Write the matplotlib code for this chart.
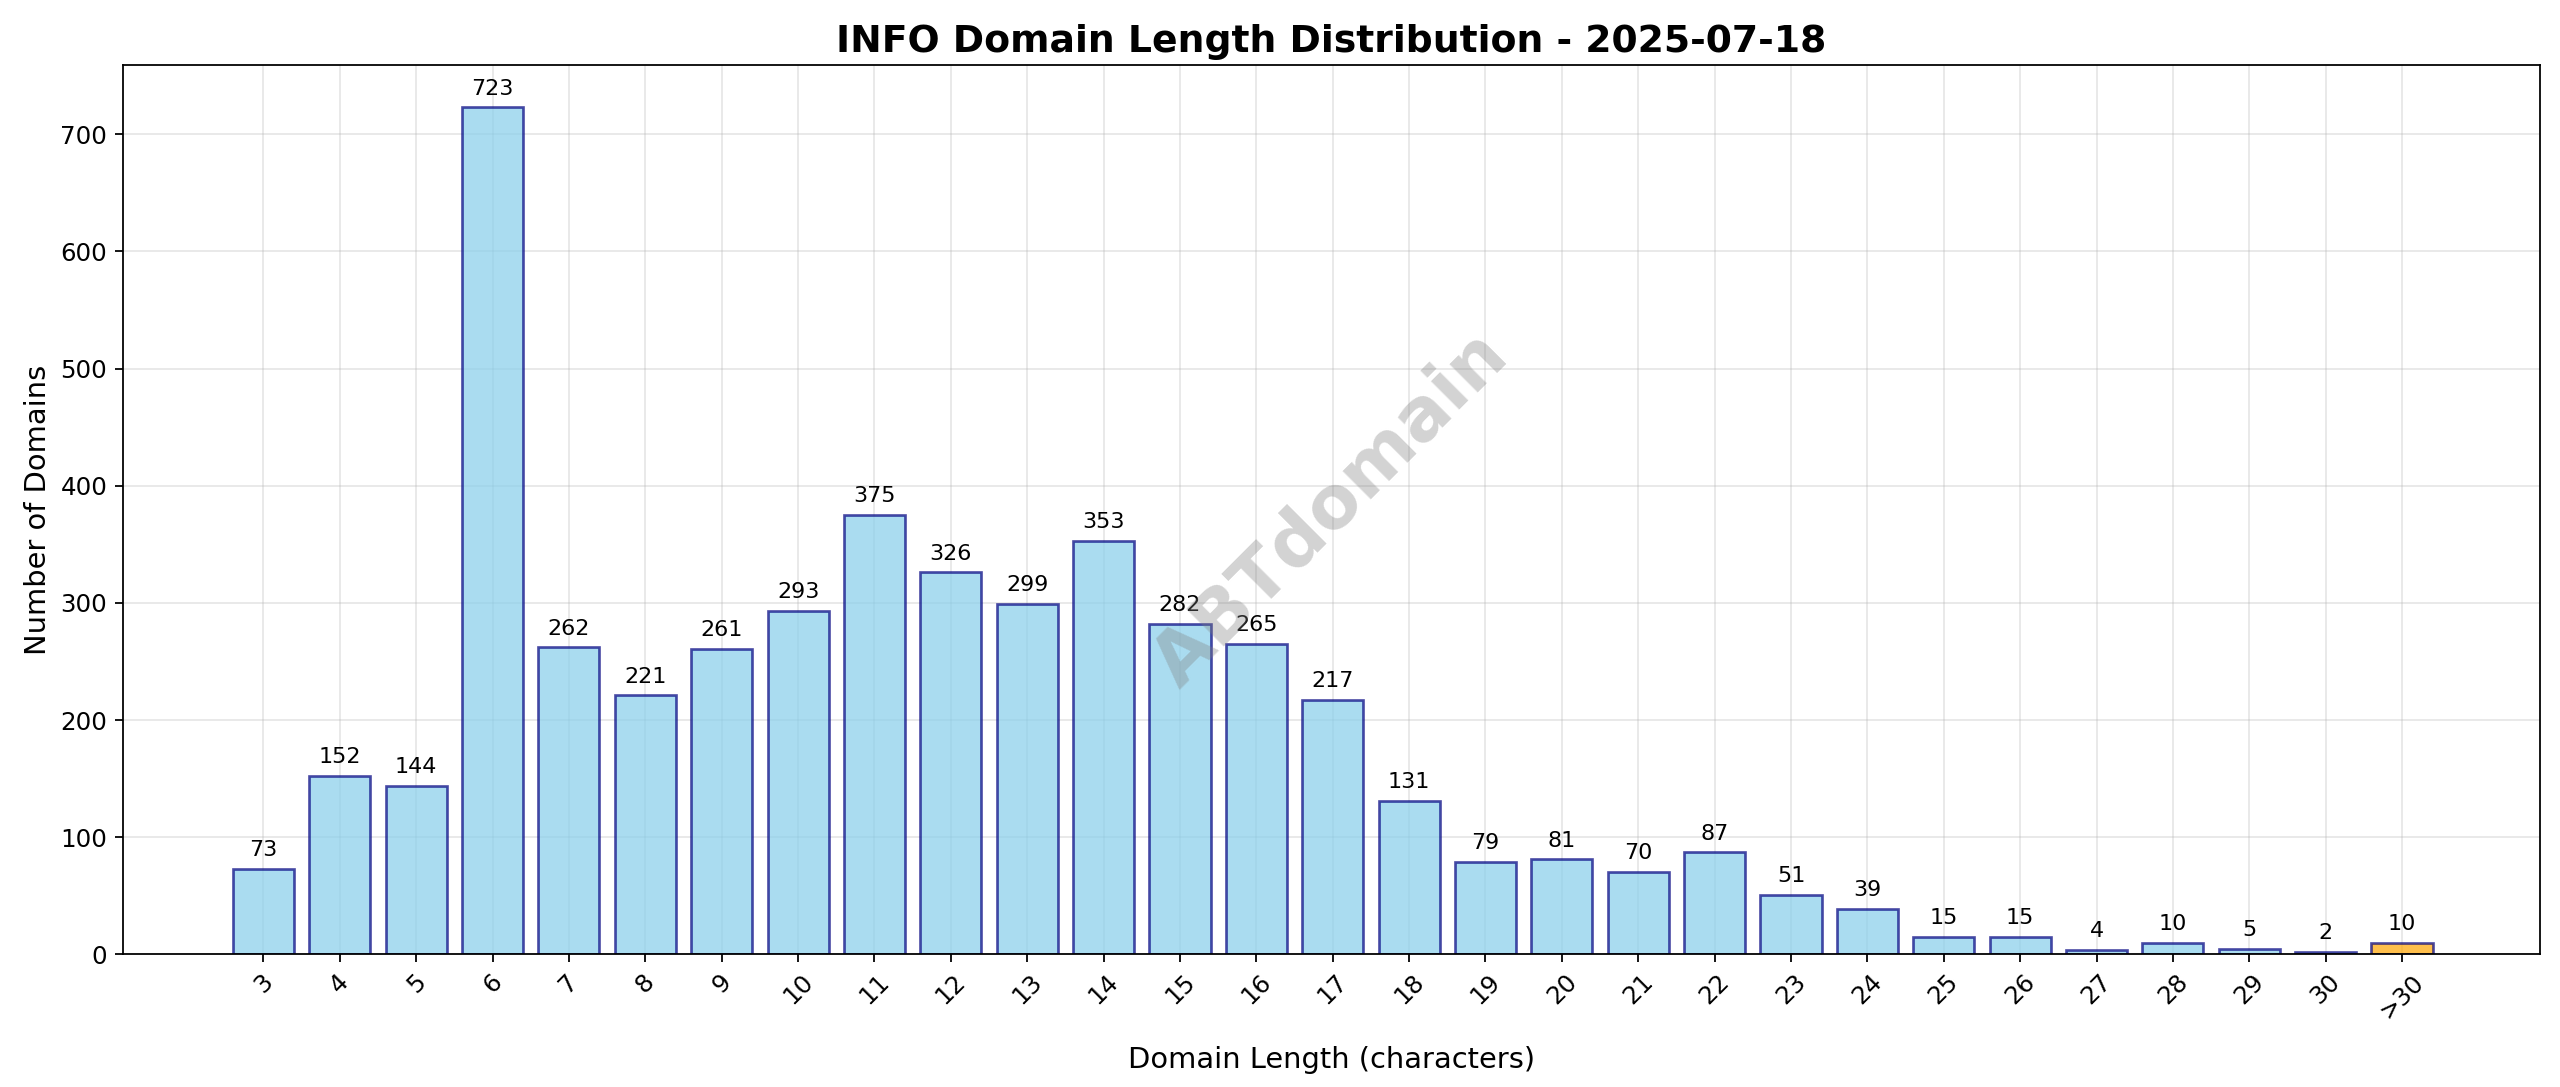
import numpy as np
from matplotlib import pyplot as plt

lengths = ['3', '4', '5', '6', '7', '8', '9', '10', '11', '12', '13', '14', '15', '16', '17',
           '18', '19', '20', '21', '22', '23', '24', '25', '26', '27', '28', '29', '30', '>30']
counts = [73, 152, 144, 723, 262, 221, 261, 293, 375, 326, 299, 353, 282, 265, 217,
          131, 79, 81, 70, 87, 51, 39, 15, 15, 4, 10, 5, 2, 10]

fig, ax = plt.subplots(figsize=(16, 6.79375), dpi=160)
colors = ['skyblue'] * (len(lengths) - 1) + ['orange']
x = np.arange(len(lengths))
bars = ax.bar(x, counts, color=colors, alpha=0.7, edgecolor='navy', linewidth=1.2)
for b, c in zip(bars, counts):
    ax.annotate(str(c), (b.get_x() + b.get_width() / 2, b.get_height()),
                xytext=(0, 4), textcoords='offset points', ha='center', va='bottom', fontsize=10)

ax.set_xticks(x)
ax.set_xticklabels(lengths, rotation=45)
ax.tick_params(labelsize=11)
ax.set_xlim(-1.84, 29.8)
ax.set_ylim(0, 759)
ax.grid(True, alpha=0.3)
ax.set_axisbelow(True)
ax.set_title('INFO Domain Length Distribution - 2025-07-18', fontsize=17, fontweight='bold')
ax.set_xlabel('Domain Length (characters)', fontsize=13, labelpad=10)
ax.set_ylabel('Number of Domains', fontsize=13)
ax.text(0.5, 0.5, 'ABTdomain', transform=ax.transAxes, fontsize=33, color='gray',
        alpha=0.35, rotation=45, ha='center', va='center', fontweight='bold')

plt.subplots_adjust(left=0.048, right=0.992, top=0.94, bottom=0.122)
plt.savefig('out.png')
